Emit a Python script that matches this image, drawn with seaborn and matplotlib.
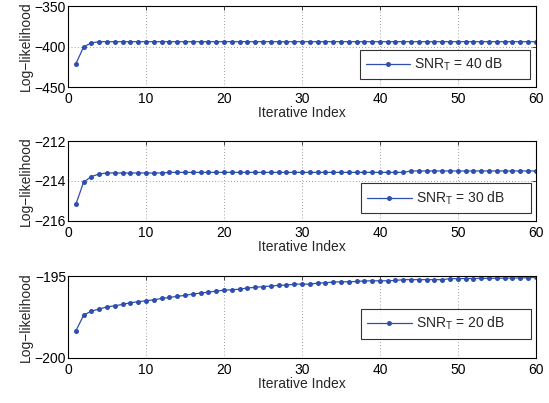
import matplotlib
matplotlib.use("Agg")
import matplotlib.pyplot as plt
import seaborn as sns
import numpy as np
import pandas as pd

iterations = list(range(1, 61))

ll_40 = [-421.4, -400.2, -395.5] + [-394.0] * 57

ll_30 = ([-215.17, -214.05, -213.78, -213.65]
         + [-213.6] * 8
         + [-213.57] * 31
         + [-213.5] * 17)

ll_20 = [-198.35, -197.39, -197.14, -197.02, -196.88, -196.82, -196.73, -196.63,
         -196.57, -196.51, -196.45, -196.37, -196.31, -196.24, -196.18, -196.10,
         -196.04, -195.98, -195.92, -195.86, -195.84, -195.80, -195.73, -195.69,
         -195.65, -195.61, -195.57, -195.55, -195.50, -195.49, -195.50, -195.43,
         -195.41, -195.37, -195.35, -195.35, -195.33, -195.30, -195.29, -195.29,
         -195.29, -195.27, -195.22, -195.22, -195.22, -195.22, -195.22, -195.22,
         -195.16, -195.16, -195.15, -195.15, -195.14, -195.14, -195.13, -195.13,
         -195.12, -195.12, -195.10, -195.08]

series_labels = ["SNR$_\\mathregular{T}$ = 40 dB", "SNR$_\\mathregular{T}$ = 30 dB",
                 "SNR$_\\mathregular{T}$ = 20 dB"]
y_limits = [(-450, -350), (-216, -212), (-200, -195)]
y_ticks = [[-450, -400, -350], [-216, -214, -212], [-200, -195]]
x_ticks = [0, 10, 20, 30, 40, 50, 60]

sns.set_style("white")
plt.rcParams['font.family'] = ['Liberation Sans', 'DejaVu Sans']
plt.rcParams['mathtext.fontset'] = 'custom'
plt.rcParams['mathtext.rm'] = 'Liberation Sans'
plt.rcParams['axes.unicode_minus'] = True

color = "#2f4fb0"
fig = plt.figure(figsize=(5.49, 4.03), dpi=100)
boxes = [(0.985, 0.784), (0.650, 0.452), (0.315, 0.112)]
left, right = 0.124, 0.976
legend_anchor = [(0.993, 0.06), (0.996, 0.06), (0.996, 0.20)]

for i, (vals, lab) in enumerate(zip([ll_40, ll_30, ll_20], series_labels)):
    top, bot = boxes[i]
    ax = fig.add_axes([left, bot, right - left, top - bot])
    df = pd.DataFrame({"it": iterations, "ll": vals})
    sns.lineplot(data=df, x="it", y="ll", ax=ax, color=color, lw=0.9,
                 marker="o", markersize=3.6, markeredgewidth=0,
                 label=lab + "      ")
    ax.set_xlim(0, 60)
    ax.set_ylim(*y_limits[i])
    ax.set_xticks(x_ticks)
    ax.set_yticks(y_ticks[i])
    ax.set_xlabel("Iterative Index", fontsize=10, labelpad=0)
    ax.set_ylabel("Log\u2212likelihood", fontsize=10, labelpad=1)
    ax.tick_params(direction="in", length=3, width=0.5, labelsize=10, pad=1.5,
                   top=True, right=True, colors="black")
    ax.tick_params(axis="x", pad=3.5)
    for xv in x_ticks[1:-1]:
        ax.axvline(xv, color="#444444", lw=0.5, ls=(0, (1, 3.5)), zorder=0)
    for yv in y_ticks[i][1:-1]:
        ax.axhline(yv, color="#444444", lw=0.5, ls=(0, (1, 3.5)), zorder=0)
    for s in ax.spines.values():
        s.set_color("black")
        s.set_linewidth(0.8)
    leg = ax.legend(loc="lower right", bbox_to_anchor=legend_anchor[i],
                    fontsize=10, frameon=True, fancybox=False, handlelength=3.2,
                    borderpad=0.45, handletextpad=0.3, borderaxespad=0.2)
    leg.get_frame().set_edgecolor("black")
    leg.get_frame().set_linewidth(0.8)

fig.savefig("out.png", dpi=100)
